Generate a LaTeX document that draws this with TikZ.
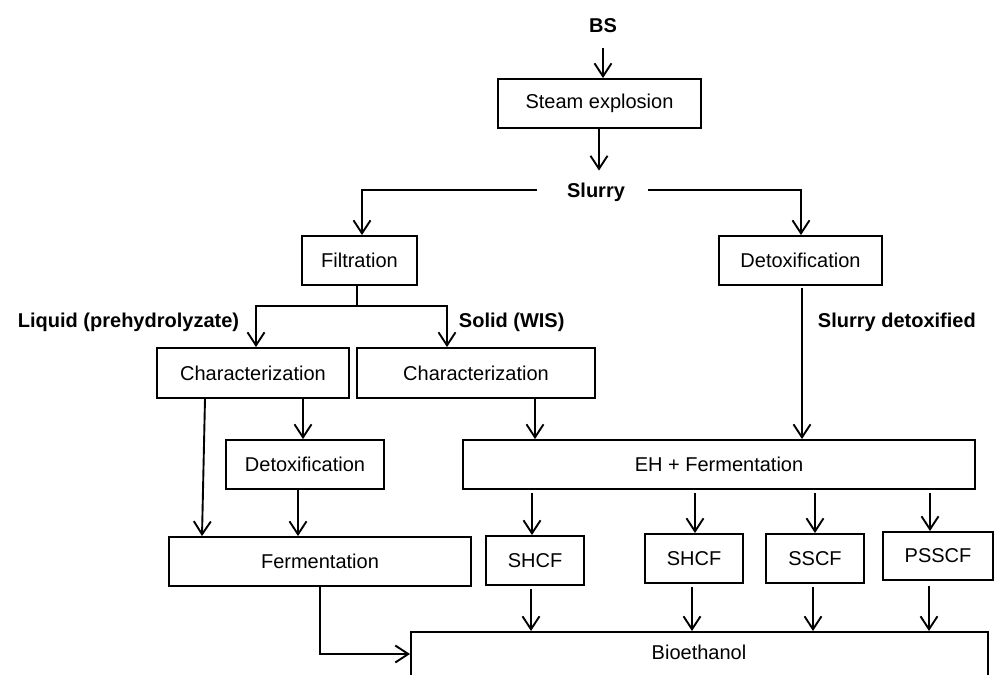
\documentclass[tikz,border=0pt]{standalone}
\usepackage{fontspec}
\setmainfont{Liberation Sans}
\usetikzlibrary{arrows.meta}
\begin{document}
\begin{tikzpicture}[x=1pt,y=-1pt,line width=1.9pt,
  box/.style={draw,rectangle,inner sep=0pt,minimum height=49pt,font=\fontsize{20}{24}\selectfont},
  lbl/.style={inner sep=0pt,anchor=base,font=\fontsize{20}{24}\selectfont\bfseries},
  arr/.style={-{Straight Barb[length=13pt,width=17pt]}}]
\useasboundingbox[fill=white] (0,0) rectangle (994,675);
% labels
\node[lbl] (bs) at (603,32) {BS};
\node[lbl] (slurry) at (596,197) {Slurry};
\node[lbl,anchor=base west] (liq) at (17,327) {Liquid (prehydrolyzate)};
\node[lbl,anchor=base west] (sol) at (458,327) {Solid (WIS)};
\node[lbl,anchor=base west] (sdet) at (817,327) {Slurry detoxified};
% boxes
\node[box,minimum width=203pt] (steam) at (599.5,103.5) {Steam explosion};
\node[box,minimum width=115pt] (filt) at (359.5,260.5) {Filtration};
\node[box,minimum width=163pt] (detoxR) at (800.5,260.5) {Detoxification};
\node[box,minimum width=192pt,minimum height=50pt] (charL) at (253,373) {Characterization};
\node[box,minimum width=238pt,minimum height=50pt] (charR) at (476,373) {Characterization};
\node[box,minimum width=158pt] (detoxL) at (305,464.5) {Detoxification};
\node[box,minimum width=512pt] (EH) at (719,464.5) {EH + Fermentation};
\node[box,minimum width=302pt] (ferm) at (320,561.5) {Fermentation};
\node[box,minimum width=98pt] (shcfA) at (535,560.5) {SHCF};
\node[box,minimum width=98pt] (shcfB) at (694,558.5) {SHCF};
\node[box,minimum width=98pt] (sscf) at (815,558.5) {SSCF};
\node[box,minimum width=110pt,minimum height=48pt] (psscf) at (938,556) {PSSCF};
\node[draw,rectangle,inner sep=0pt,minimum width=577pt,minimum height=100pt,anchor=north west] (bio) at (410,631) {};
\node[font=\fontsize{20}{24}\selectfont,inner sep=0pt] (biot) at (699,652) {Bioethanol};
% coordinates
\coordinate (sl) at (537,190);
\coordinate (sr) at (648,190);
\coordinate (fj) at (357,306);
% connectors
\draw[arr] ([yshift=-15pt]bs.south) -- (bs.south |- steam.north);
\draw[arr] ([xshift=-0.5pt]steam.south) -- ([xshift=-0.5pt,yshift=11pt]steam.south |- slurry.north);
\draw[arr] (sl) -| ([xshift=2.5pt]filt.north);
\draw[arr] (sr) -| ([xshift=0.5pt]detoxR.north);
\draw (fj |- filt.south) -- (fj);
\draw[arr] (fj) -| ([xshift=3pt]charL.north);
\draw[arr] (fj) -| ([xshift=-29pt]charR.north);
\draw[arr] ([xshift=1.5pt,yshift=-2pt]detoxR.south) -- ([xshift=1.5pt]detoxR.south |- EH.north);
\draw[arr] ([xshift=-48pt]charL.south) -- ([xshift=-118pt]ferm.north);
\draw[arr] ([xshift=-2pt]detoxL.north |- charL.south) -- ([xshift=-2pt]detoxL.north);
\draw[arr] ([xshift=-7pt]detoxL.south) -- ([xshift=-7pt]detoxL.south |- ferm.north);
\draw[arr] ([xshift=59pt]charR.south) -- ([xshift=59pt]charR.south |- EH.north);
\draw[arr] ([xshift=-3pt,yshift=-3pt]shcfA.north |- EH.south) -- ([xshift=-3pt]shcfA.north);
\draw[arr] ([xshift=1pt,yshift=-3pt]shcfB.north |- EH.south) -- ([xshift=1pt]shcfB.north);
\draw[arr] ([yshift=-3pt]sscf.north |- EH.south) -- (sscf.north);
\draw[arr] ([xshift=-8pt,yshift=-3pt]psscf.north |- EH.south) -- ([xshift=-8pt]psscf.north);
\draw[arr] ([xshift=-4pt,yshift=-3pt]shcfA.south) -- ([xshift=-4pt]shcfA.south |- bio.north);
\draw[arr] ([xshift=-2pt,yshift=-3pt]shcfB.south) -- ([xshift=-2pt]shcfB.south |- bio.north);
\draw[arr] ([xshift=-2pt,yshift=-3pt]sscf.south) -- ([xshift=-2pt]sscf.south |- bio.north);
\draw[arr] ([xshift=-9pt,yshift=-5pt]psscf.south) -- ([xshift=-9pt]psscf.south |- bio.north);
\draw[arr] (ferm.south) |- ([yshift=-23pt]bio.north west);
\end{tikzpicture}
\end{document}
